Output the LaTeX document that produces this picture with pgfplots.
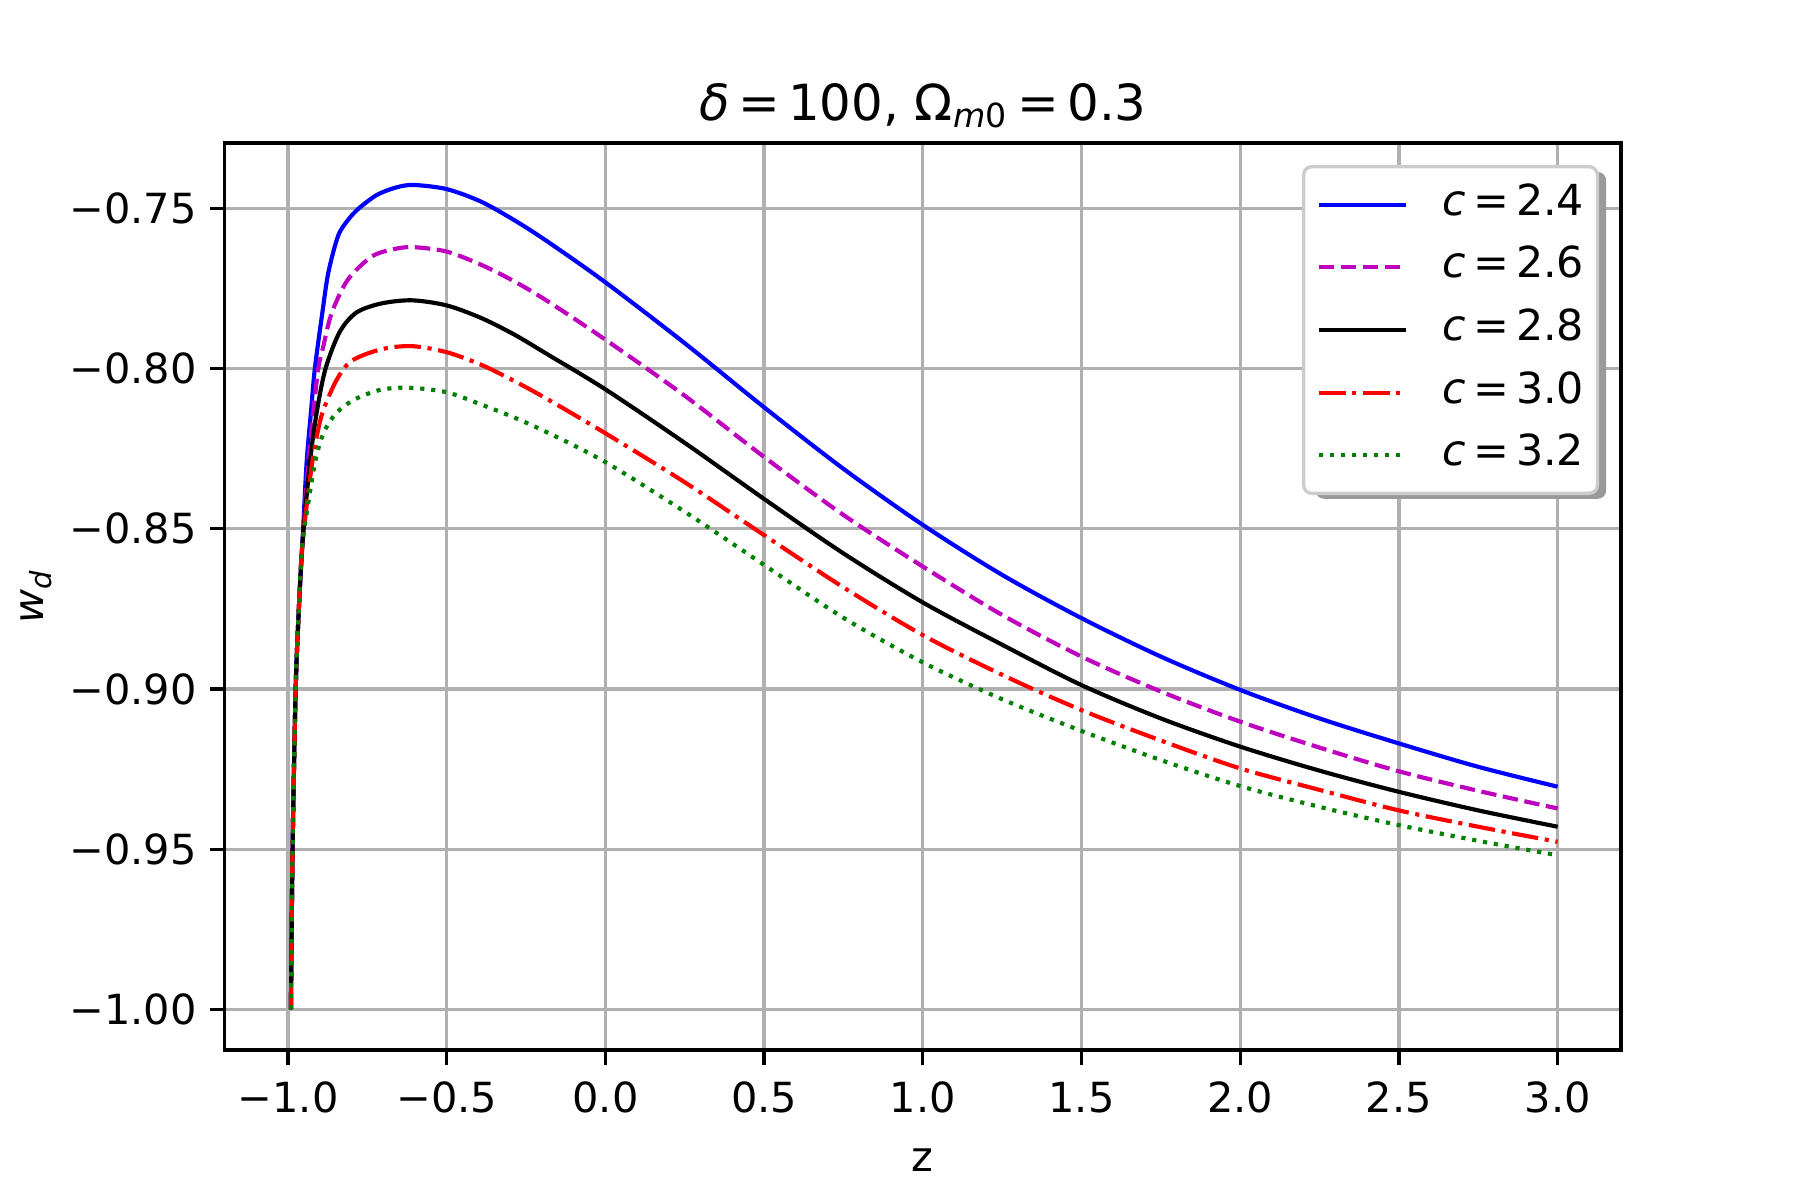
\documentclass[border=0pt]{standalone}
\usepackage{fontspec}
\setmainfont{DejaVu Sans}
\usepackage{pgfplots}
\pgfplotsset{compat=1.18}
\definecolor{mgrid}{HTML}{B0B0B0}
\definecolor{mmag}{rgb}{0.75,0,0.75}
\definecolor{mgreen}{rgb}{0,0.5,0}
\definecolor{lframe}{HTML}{CCCCCC}
\newcommand{\eq}{\hspace{0.17em}=\hspace{0.17em}}
\begin{document}
\begin{tikzpicture}
\path[use as bounding box] (0,0) rectangle (433.6pt,289.08pt);
\begin{axis}[
  at={(54.1pt,36.13pt)}, anchor=south west,
  scale only axis, width=336.4pt, height=218.5pt,
  xmin=-1.2, xmax=3.2, ymin=-1.0127, ymax=-0.7296,
  axis line style={line width=0.8pt, black},
  tick pos=left, tick align=outside, major tick length=3.5pt,
  every tick/.style={line width=0.8pt, black},
  grid=major, major grid style={mgrid, line width=0.8pt},
  xtick={-1,-0.5,0,0.5,1,1.5,2,2.5,3},
  xticklabels={−1.0,−0.5,0.0,0.5,1.0,1.5,2.0,2.5,3.0},
  ytick={-1,-0.95,-0.9,-0.85,-0.8,-0.75},
  yticklabels={−1.00,−0.95,−0.90,−0.85,−0.80,−0.75},
  xticklabel style={font=\fontsize{10}{12}\selectfont, anchor=north, inner sep=0pt, text height=7.29pt, text depth=0pt, yshift=-4.0pt},
  yticklabel style={font=\fontsize{10}{12}\selectfont, anchor=east, inner sep=0pt, text height=7.29pt, text depth=0pt, xshift=-3.0pt},
  every axis title shift=0pt,
  title={\textit{δ}\eq 100, Ω\textsubscript{\textit{m}0}\eq 0.3},
  title style={at={(axis description cs:0.5,1)}, anchor=base, yshift=5.5pt, inner sep=0pt, font=\fontsize{12}{14}\selectfont},
  xlabel={z},
  xlabel style={at={(axis description cs:0.5,-0.1343)}, anchor=base, inner sep=0pt, font=\fontsize{10}{12}\selectfont},
  ylabel={\textit{w}\textsubscript{\textit{d}}},
  ylabel style={at={(axis description cs:-0.1296,0.5)}, anchor=base, inner sep=0pt, font=\fontsize{10}{12}\selectfont},
  legend cell align=left,
  legend image code/.code={\draw[#1] (0pt,0pt) -- (20.9pt,0pt);},
  legend style={at={(axis description cs:1,1)}, anchor=north east, xshift=-5.3pt, yshift=-5.3pt,
    draw=lframe, line width=0.8pt, fill=white, rounded corners=2pt,
    inner xsep=3.2pt, inner ysep=4.15pt, row sep=5.1pt,
    font=\fontsize{10.3}{12}\selectfont,
    nodes={inner sep=0pt, text height=7.5pt, text depth=2.5pt},
    /tikz/every odd column/.append style={column sep=8.3pt}},
]
\addplot[blue, line width=1pt, smooth] coordinates {
(-0.991,-1.0) (-0.9858,-0.95) (-0.976,-0.90) (-0.966,-0.875) (-0.955,-0.855)
(-0.9417,-0.8296) (-0.9282,-0.814) (-0.9156,-0.80) (-0.8923,-0.7828) (-0.873,-0.770)
(-0.842,-0.7585) (-0.81,-0.7535) (-0.777,-0.7500) (-0.72,-0.7458) (-0.66,-0.7435) (-0.605,-0.7427) (-0.5,-0.7440)
(-0.392,-0.7479) (-0.287,-0.7537) (-0.182,-0.7604) (0,-0.7731) (0.25,-0.7921) (0.5,-0.8121) (0.75,-0.8313) (1.0,-0.8488)
(1.25,-0.8644) (1.5,-0.8779) (1.75,-0.8899) (2.0,-0.9003) (2.25,-0.9092) (2.5,-0.917)
(2.75,-0.9243) (3.0,-0.9305)};
\addlegendentry{\textit{c}\eq 2.4}
\addplot[mmag, line width=1pt, dash pattern=on 3.7pt off 1.6pt, smooth] coordinates {
(-0.991,-1.0) (-0.9858,-0.95) (-0.976,-0.90) (-0.966,-0.875) (-0.955,-0.855)
(-0.9364,-0.8296) (-0.9207,-0.814) (-0.9049,-0.80) (-0.8892,-0.7932) (-0.863,-0.7828)
(-0.8127,-0.7724) (-0.7371,-0.7651) (-0.67,-0.7628) (-0.607,-0.7621) (-0.5,-0.7635)
(-0.392,-0.7676) (-0.287,-0.7728) (-0.182,-0.779) (0,-0.791) (0.25,-0.8085) (0.5,-0.8276) (0.75,-0.8457) (1.0,-0.8618)
(1.25,-0.8769) (1.5,-0.8899) (1.75,-0.9008) (2.0,-0.9102) (2.25,-0.9183) (2.5,-0.9257)
(2.75,-0.9318) (3.0,-0.9373)};
\addlegendentry{\textit{c}\eq 2.6}
\addplot[black, line width=1pt, smooth] coordinates {
(-0.991,-1.0) (-0.9858,-0.95) (-0.976,-0.90) (-0.966,-0.875) (-0.955,-0.855)
(-0.9314,-0.8296) (-0.9103,-0.814) (-0.8819,-0.80) (-0.8369,-0.7885) (-0.7843,-0.7825)
(-0.707,-0.7797) (-0.61,-0.7787) (-0.5,-0.7803)
(-0.392,-0.7842) (-0.287,-0.7894) (-0.182,-0.7956) (0,-0.8065) (0.25,-0.8232) (0.5,-0.8407) (0.75,-0.8577) (1.0,-0.873)
(1.25,-0.8862) (1.5,-0.8988) (1.75,-0.9092) (2.0,-0.918) (2.25,-0.9255) (2.5,-0.9321)
(2.75,-0.9379) (3.0,-0.943)};
\addlegendentry{\textit{c}\eq 2.8}
\addplot[red, line width=1pt, dash pattern=on 6.4pt off 1.6pt on 1pt off 1.6pt, smooth] coordinates {
(-0.991,-1.0) (-0.9858,-0.95) (-0.976,-0.90) (-0.966,-0.875) (-0.955,-0.855)
(-0.9314,-0.8348) (-0.9156,-0.8244) (-0.8923,-0.814) (-0.8473,-0.8036) (-0.80,-0.7976)
(-0.707,-0.7940) (-0.61,-0.7930) (-0.5,-0.7949)
(-0.392,-0.7988) (-0.287,-0.8039) (-0.182,-0.8096) (0,-0.8202) (0.25,-0.8355) (0.5,-0.852) (0.75,-0.8683) (1.0,-0.8832)
(1.25,-0.8956) (1.5,-0.9066) (1.75,-0.9161) (2.0,-0.9248) (2.25,-0.9315) (2.5,-0.9379)
(2.75,-0.943) (3.0,-0.9477)};
\addlegendentry{\textit{c}\eq 3.0}
\addplot[mgreen, line width=1pt, dash pattern=on 1pt off 1.65pt, smooth] coordinates {
(-0.991,-1.0) (-0.9858,-0.95) (-0.976,-0.90) (-0.966,-0.875) (-0.955,-0.855)
(-0.9333,-0.84) (-0.9156,-0.8296) (-0.903,-0.8244) (-0.8841,-0.8192) (-0.8473,-0.8138)
(-0.7897,-0.8096) (-0.707,-0.8066) (-0.615,-0.8060) (-0.5,-0.8074)
(-0.392,-0.8112) (-0.287,-0.8153) (-0.182,-0.820) (0,-0.8292) (0.25,-0.8447) (0.5,-0.8613) (0.75,-0.8778) (1.0,-0.8917)
(1.25,-0.9032) (1.5,-0.9131) (1.75,-0.9222) (2.0,-0.9303) (2.25,-0.9368) (2.5,-0.9425)
(2.75,-0.9474) (3.0,-0.9519)};
\addlegendentry{\textit{c}\eq 3.2}
\fill[black!40, rounded corners=2pt] ([xshift=-73.6pt,yshift=-85.7pt]rel axis cs:1,1) rectangle ([xshift=-3.6pt,yshift=-7pt]rel axis cs:1,1);
\end{axis}
\end{tikzpicture}
\end{document}
